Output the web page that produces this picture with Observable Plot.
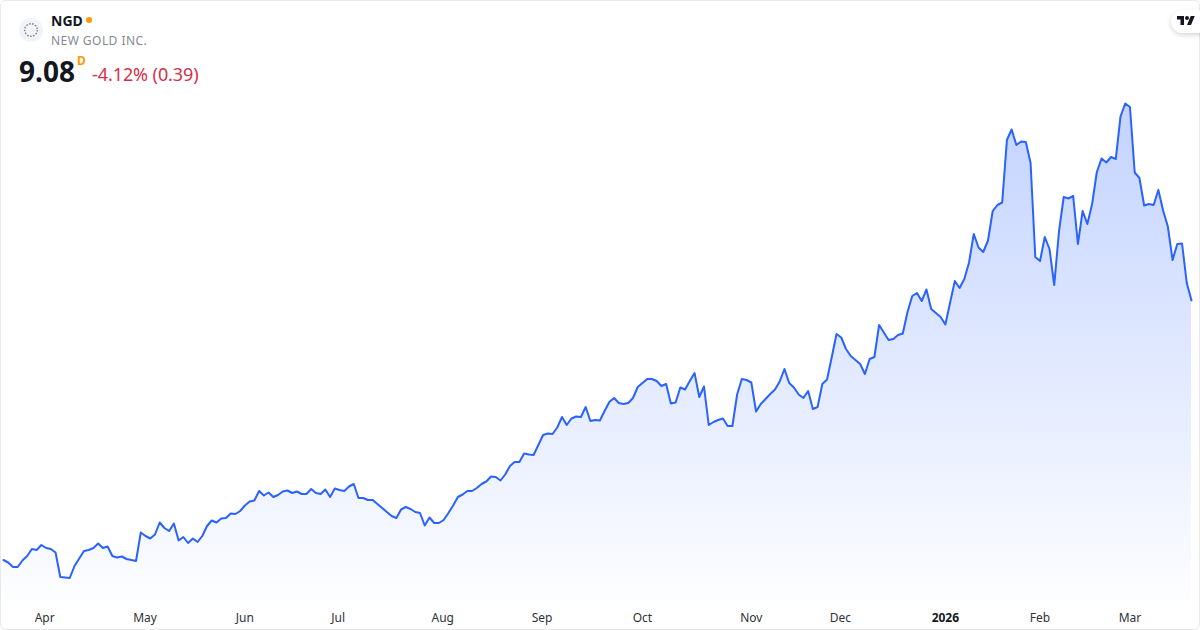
<!DOCTYPE html>
<html>
<head>
<meta charset="utf-8">
<script src="https://cdn.jsdelivr.net/npm/d3@7"></script>
<script src="https://cdn.jsdelivr.net/npm/@observablehq/plot@0.6"></script>
<style>
html,body{margin:0;padding:0;background:#fff;}
#card{position:relative;width:1200px;height:630px;overflow:hidden;font-family:"Noto Sans",sans-serif;background:#fff;}
#card svg.chart{position:absolute;left:0;top:0;}
#frame{position:absolute;left:0;top:0;width:1198px;height:628px;border:1px solid #e9e9ea;border-radius:6px;pointer-events:none;}
#icon{position:absolute;left:19px;top:18px;width:24px;height:24px;}
.t{position:absolute;white-space:nowrap;line-height:1;}
#sym{left:51px;top:14px;font-size:14px;font-weight:700;color:#131722;}
#dot{position:absolute;left:86px;top:17px;width:6px;height:6px;border-radius:50%;background:#ff9800;}
#name{left:51px;top:35px;font-size:12px;color:#868993;letter-spacing:.45px;}
#price{left:19px;top:57px;font-size:28px;font-weight:700;color:#131722;}
#res{left:77px;top:55px;font-size:12px;font-weight:700;color:#ff9800;}
#chg{left:92px;top:65px;font-size:18px;letter-spacing:-.08px;color:#d1324a;}
#logo{position:absolute;left:1171px;top:10px;width:40px;height:23px;border-radius:12px;background:#fff;box-shadow:0 2px 5px rgba(0,0,0,.16);}
#logo svg{position:absolute;left:6px;top:4px;}
</style>
</head>
<body>
<div id="card">
  <div id="frame"></div>
</div>
<script>
const closes = [
3.89,3.84,3.75,3.75,3.88,3.97,4.11,4.09,4.19,4.13,4.11,4.04,3.55,3.54,3.53,3.77,3.92,4.07,4.09,4.13,
4.22,4.13,4.16,3.97,3.94,3.96,3.91,3.89,3.87,4.44,4.37,4.32,4.40,4.64,4.53,4.47,4.62,4.28,4.35,4.23,
4.32,4.25,4.37,4.57,4.68,4.64,4.72,4.73,4.82,4.81,4.87,4.98,5.06,5.08,5.27,5.18,5.24,5.15,5.19,5.26,
5.28,5.23,5.26,5.21,5.21,5.31,5.23,5.21,5.30,5.15,5.32,5.29,5.27,5.36,5.41,5.13,5.13,5.09,5.09,5.01,
4.93,4.85,4.77,4.73,4.90,4.95,4.91,4.85,4.83,4.58,4.74,4.63,4.63,4.69,4.83,4.98,5.15,5.20,5.27,5.27,
5.33,5.41,5.46,5.56,5.55,5.48,5.60,5.77,5.85,5.85,6.02,6.00,5.99,6.19,6.39,6.42,6.41,6.54,6.75,6.59,
6.72,6.76,6.75,6.95,6.67,6.69,6.68,6.87,7.05,7.13,7.03,7.01,7.03,7.13,7.35,7.43,7.51,7.51,7.47,7.37,
7.41,7.02,7.04,7.34,7.30,7.47,7.63,7.15,7.36,6.59,6.65,6.69,6.72,6.57,6.57,7.20,7.51,7.49,7.44,6.86,
7.01,7.11,7.21,7.30,7.46,7.71,7.43,7.34,7.20,7.13,7.27,6.91,6.95,7.41,7.50,7.95,8.41,8.34,8.11,7.97,
7.89,7.81,7.61,7.91,7.95,8.59,8.44,8.29,8.31,8.39,8.42,8.85,9.17,9.23,9.07,9.30,8.91,8.83,8.75,8.60,
9.04,9.47,9.33,9.51,9.84,10.41,10.14,10.05,10.28,10.87,10.99,11.04,12.29,12.50,12.19,12.26,12.25,11.83,9.95,9.87,
10.35,10.11,9.39,10.46,11.15,11.12,11.17,10.21,10.87,10.61,11.01,11.65,11.92,11.84,11.95,11.91,12.76,13.02,12.95,11.64,
11.53,10.98,11.01,10.99,11.29,10.88,10.56,9.89,10.21,10.22,9.43,9.08
];
const sessions = closes.map((_, i) => i);
const monthSessions = [8.7, 29.9, 51, 70.7, 92.8, 113.8, 135, 158, 176.8, 219, 238];
const monthLabels = ["Apr", "May", "Jun", "Jul", "Aug", "Sep", "Oct", "Nov", "Dec", "Feb", "Mar"];
const yearSessions = [199];
const yearLabels = ["2026"];
const priceTop = 15.08;
const priceFloor = 3.08;

const gradient = () => {
  const ns = "http://www.w3.org/2000/svg";
  const defs = document.createElementNS(ns, "defs");
  defs.innerHTML = '<linearGradient id="fade" x1="0" y1="0" x2="0" y2="1">' +
    '<stop offset="0" stop-color="#2962ff" stop-opacity="0.28"/>' +
    '<stop offset="1" stop-color="#2962ff" stop-opacity="0.01"/></linearGradient>';
  return defs;
};

const axisStyle = {ticks: [], tickSize: 0, tickPadding: 13, fontSize: 12, fill: "#2e3238", anchor: "bottom", label: null};

const chart = Plot.plot({
  width: 1200, height: 630,
  marginLeft: 3, marginRight: 9, marginTop: 0, marginBottom: 30,
  style: {background: "transparent", fontFamily: '"Noto Sans",sans-serif', fontSize: "12px", overflow: "visible"},
  x: {domain: [0, closes.length - 1], axis: null},
  y: {domain: [priceFloor, priceTop], axis: null},
  marks: [
    gradient,
    Plot.areaY(closes, {x: sessions, y1: () => priceFloor, y2: closes, fill: "url(#fade)"}),
    Plot.lineY(closes, {x: sessions, y: closes, stroke: "#2962ff", strokeWidth: 2, strokeLinejoin: "round"}),
    Plot.axisX({...axisStyle, ticks: monthSessions, tickFormat: d => monthLabels[monthSessions.indexOf(d)]}),
    Plot.axisX({...axisStyle, ticks: yearSessions, tickFormat: d => yearLabels[yearSessions.indexOf(d)], fontWeight: "bold", fill: "#131722"})
  ]
});
chart.classList.add("chart");
const card = document.getElementById("card");
card.insertBefore(chart, card.firstChild);

const header = `
<svg id="icon" viewBox="0 0 24 24"><circle cx="12" cy="12" r="12" fill="#f0f3fa"/>
<circle cx="12" cy="12" r="6.3" fill="none" stroke="#8f8668" stroke-width="1.4" stroke-dasharray="1.6 1.4"/></svg>
<div class="t" id="sym">NGD</div><div id="dot"></div>
<div class="t" id="name">NEW GOLD INC.</div>
<div class="t" id="price">9.08</div>
<div class="t" id="res">D</div>
<div class="t" id="chg">-4.12% (0.39)</div>
<div id="logo"><svg width="18" height="14" viewBox="0 0 36 28"><path d="M14 22H7V11H0V4h14v18zM28 22h-8l7.5-18h8L28 22z" fill="#131722"/><circle cx="20" cy="8" r="4" fill="#131722"/></svg></div>`;
card.insertAdjacentHTML("beforeend", header);
</script>
</body>
</html>
